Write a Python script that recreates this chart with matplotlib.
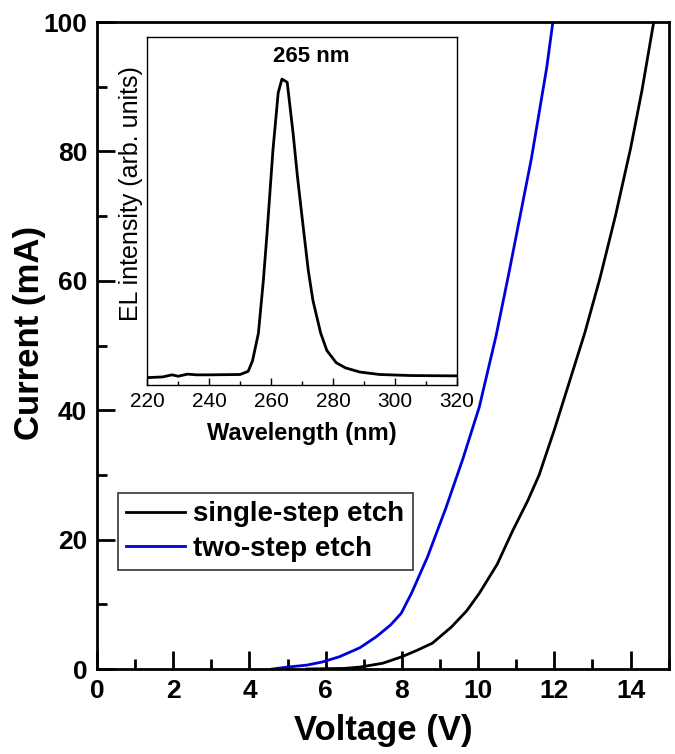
import matplotlib
matplotlib.use('Agg')
import matplotlib.pyplot as plt
from matplotlib.ticker import MultipleLocator

plt.rcParams['font.family'] = ['Liberation Sans', 'DejaVu Sans']

# I-V data (Voltage in V, Current in mA)
v_single = [5.5, 6.5, 6.9, 7.5, 8.0, 8.4, 8.8, 9.3, 9.7, 10.03, 10.5, 10.9, 11.3, 11.6, 12.0, 12.4, 12.8, 13.2, 13.6, 14.0, 14.3, 14.6]
i_single = [0.0, 0.1, 0.3, 0.9, 1.9, 2.9, 4.0, 6.5, 9.0, 11.7, 16.2, 21.3, 26.0, 30.0, 37.0, 44.5, 52.0, 60.5, 70.0, 80.5, 89.5, 99.8]
v_two = [4.6, 5.0, 5.5, 5.92, 6.36, 6.9, 7.33, 7.7, 7.98, 8.25, 8.67, 9.16, 9.6, 10.03, 10.47, 10.8, 11.15, 11.4, 11.6, 11.8, 11.96]
i_two = [0.0, 0.3, 0.6, 1.1, 1.9, 3.3, 5.0, 6.8, 8.6, 11.7, 17.3, 25.0, 32.5, 40.5, 51.5, 61.0, 71.5, 79.0, 86.0, 93.0, 100.0]

# EL spectrum inset
wl = [220, 225, 228, 230, 233, 236, 240, 250, 252.6, 254, 255.9, 257.5, 258.7, 260.6, 262.3, 263.5, 265.2, 267.1, 268.5, 270, 272, 273.5, 276, 278, 281, 284, 288.7, 295, 305, 320]
el = [0.022, 0.024, 0.03, 0.026, 0.032, 0.03, 0.03, 0.031, 0.04, 0.07, 0.149, 0.30, 0.437, 0.675, 0.84, 0.879, 0.87, 0.724, 0.60, 0.483, 0.33, 0.244, 0.15, 0.10, 0.065, 0.05, 0.038, 0.031, 0.028, 0.027]

fig = plt.figure(figsize=(6.75, 7.54), dpi=100)
ax = fig.add_axes([0.1437, 0.1127, 0.847, 0.858])
ax.plot(v_single, i_single, color='black', lw=2, label='single-step etch')
ax.plot(v_two, i_two, color='#0000dd', lw=2, label='two-step etch')
ax.set_xlim(0, 15)
ax.set_ylim(0, 100)
ax.xaxis.set_major_locator(MultipleLocator(2))
ax.xaxis.set_minor_locator(MultipleLocator(1))
ax.yaxis.set_major_locator(MultipleLocator(20))
ax.yaxis.set_minor_locator(MultipleLocator(10))
ax.tick_params(which='major', direction='in', length=13, width=2, labelsize=19, pad=7)
ax.tick_params(which='minor', direction='in', length=7, width=2)
for lab in ax.get_xticklabels() + ax.get_yticklabels():
    lab.set_fontweight('bold')
for s in ax.spines.values():
    s.set_linewidth(2)
ax.set_xlabel('Voltage (V)', fontsize=25, fontweight='bold', labelpad=8)
ax.set_ylabel('Current (mA)', fontsize=25, fontweight='bold')
ax.yaxis.set_label_coords(-0.09, 0.52)
leg = ax.legend(loc='upper left', bbox_to_anchor=(0.037, 0.272), prop={'size': 20, 'weight': 'bold'},
                fancybox=False, edgecolor='black', handlelength=2.1, handletextpad=0.3,
                borderpad=0.3, labelspacing=0.3, borderaxespad=0)
leg.get_frame().set_linewidth(1.2)

ins = fig.add_axes([0.218, 0.489, 0.459, 0.462])
ins.plot(wl, el, color='black', lw=2)
ins.set_xlim(220, 320)
ins.set_ylim(0, 1)
ins.set_yticks([])
ins.xaxis.set_major_locator(MultipleLocator(20))
ins.xaxis.set_minor_locator(MultipleLocator(10))
ins.tick_params(which='major', direction='in', length=5, width=1, labelsize=15, pad=5)
ins.tick_params(which='minor', direction='in', length=3, width=1)
for s in ins.spines.values():
    s.set_linewidth(1)
ins.set_xlabel('Wavelength (nm)', fontsize=17, fontweight='bold', labelpad=8)
ins.set_ylabel('EL intensity (arb. units)', fontsize=18)
ins.yaxis.set_label_coords(-0.015, 0.55)
ins.text(273, 0.945, '265 nm', fontsize=16, fontweight='bold', ha='center', va='center')

fig.savefig('out.png', dpi=100)
